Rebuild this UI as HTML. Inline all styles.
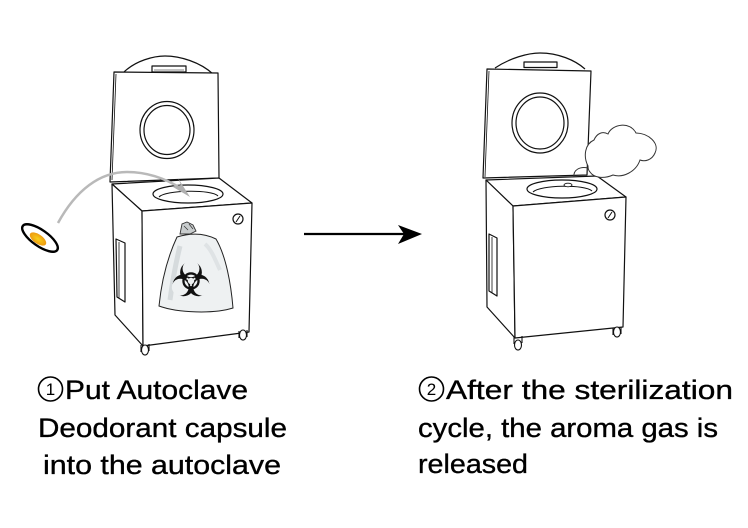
<!DOCTYPE html>
<html>
<head>
<meta charset="utf-8">
<style>
html,body{margin:0;padding:0;background:#fff;}
body{width:748px;height:528px;overflow:hidden;}
svg{display:block;}
text{font-family:"Liberation Sans","DejaVu Sans","Noto Sans CJK SC",sans-serif;font-size:27px;fill:#000;stroke:#000;stroke-width:0.35;}
text.num{font-size:17px;stroke-width:0;}
</style>
</head>
<body>
<svg width="748" height="528" viewBox="0 0 748 528" xmlns="http://www.w3.org/2000/svg">
  <defs>
    <radialGradient id="org" cx="50%" cy="50%" r="50%">
      <stop offset="0" stop-color="#f7d21a"/>
      <stop offset="1" stop-color="#ee9a10"/>
    </radialGradient>
  </defs>

  <!-- ================= LEFT AUTOCLAVE ================= -->
  <g fill="#fff" stroke="#111" stroke-width="1.2" stroke-linejoin="round">
    <path d="M122,74 C135,60 155,56 165,56 C180,56 200,62 213,74" fill="#fff"/>
    <rect x="152" y="66" width="34" height="6" fill="#fff"/>
    <line x1="154" y1="70" x2="184" y2="70" stroke-width="0.6"/>
    <polygon points="114,72 218,73 219,178 110,182"/>
    <line x1="116" y1="74" x2="112" y2="180" stroke-width="0.8"/>
    <ellipse cx="167" cy="130" rx="27" ry="28.5"/>
    <ellipse cx="167" cy="130" rx="23" ry="24.5"/>
    <polygon points="112,184 219,178 252,203 142,211"/>
    <ellipse cx="188" cy="194" rx="35" ry="9"/>
    <path d="M159,197 C165,190 212,189 218,196" fill="none" stroke-width="1"/>
    <polygon points="112,184 142,211 143,346 115,315"/>
    <polygon points="116,239 125,243 125,302 117,297"/>
    <line x1="119" y1="242" x2="119" y2="298" stroke-width="0.8"/>
    <polygon points="142,211 252,203 249,332 143,346"/>
  </g>
  <circle cx="238" cy="219" r="5" fill="#fff" stroke="#111" stroke-width="1.2"/>
  <line x1="236" y1="222" x2="240" y2="216" stroke="#111" stroke-width="1"/>
  <g fill="#fff" stroke="#111" stroke-width="1.1">
    <path d="M141,345 L141,352 M149,344 L149,351"/>
    <ellipse cx="145" cy="350" rx="3.5" ry="5"/>
    <path d="M239,331 L239,338 M247,330 L247,337"/>
    <ellipse cx="243" cy="335" rx="3.5" ry="5"/>
  </g>
  <!-- bag -->
  <path d="M177,237 C170,252 162,276 159,306 C178,313 214,314 233,308 C231,284 226,256 216,239 C204,233 190,233 177,237 Z" fill="#eef1f2" stroke="#222" stroke-width="1"/>
  <path d="M180,246 C176,262 172,285 170,300" stroke="#d6dbdd" stroke-width="5" fill="none"/>
  <path d="M205,244 C212,250 216,262 220,270" stroke="#dfe3e5" stroke-width="4" fill="none"/>
  <polygon points="180,234 182,224 187,222 193,225 196,231 190,234" fill="#c8cccd" stroke="#333" stroke-width="0.9"/>
  <path d="M184,226 L188,230 M189,224 L193,229" stroke="#333" stroke-width="0.7"/>
  <!-- biohazard -->
  <g transform="translate(191,281) scale(1.45)">
    <g fill="#111">
      <circle cx="0" cy="-6" r="7.5"/>
      <circle cx="5.2" cy="3" r="7.5"/>
      <circle cx="-5.2" cy="3" r="7.5"/>
    </g>
    <g fill="#eef1f2">
      <circle cx="0" cy="-8.5" r="5.8"/>
      <circle cx="7.4" cy="4.25" r="5.8"/>
      <circle cx="-7.4" cy="4.25" r="5.8"/>
      <circle cx="0" cy="0" r="2.2"/>
    </g>
    <circle cx="0" cy="0" r="5.2" fill="none" stroke="#111" stroke-width="1.6"/>
    <g stroke="#eef1f2" stroke-width="1.2">
      <line x1="0" y1="0" x2="0" y2="3.5"/>
      <line x1="0" y1="0" x2="3" y2="-1.8"/>
      <line x1="0" y1="0" x2="-3" y2="-1.8"/>
    </g>
  </g>

  <!-- capsule -->
  <ellipse cx="40" cy="238" rx="21" ry="8" transform="rotate(35 40 238)" fill="#fff" stroke="#000" stroke-width="2.4"/>
  <ellipse cx="38" cy="239" rx="9.5" ry="4.6" transform="rotate(35 38 239)" fill="url(#org)"/>

  <!-- gray curve arrow -->
  <path d="M58,223 C76,190 100,172 127,172 C150,172 168,180 182,189" fill="none" stroke="#b9b9b9" stroke-width="2.5"/>
  <polygon points="190,197 173,187 181,185 178,178" fill="#b0b0b0"/>

  <!-- ================= MIDDLE ARROW ================= -->
  <line x1="304" y1="234" x2="405" y2="234" stroke="#000" stroke-width="2.2"/>
  <polygon points="422,234 398,225 404,234 398,244" fill="#000"/>

  <!-- ================= RIGHT AUTOCLAVE ================= -->
  <g fill="#fff" stroke="#111" stroke-width="1.2" stroke-linejoin="round">
    <path d="M495,68 C510,58 528,53 540,53 C558,53 575,60 585,69" fill="#fff"/>
    <rect x="524" y="62" width="33" height="5.5" fill="#fff"/>
    <polygon points="487,69 591,71 587,175 483,178"/>
    <line x1="489" y1="71" x2="485" y2="177" stroke-width="0.8"/>
    <ellipse cx="540" cy="123" rx="28" ry="30"/>
    <ellipse cx="540" cy="123" rx="24" ry="26"/>
    <polygon points="486,180 597,176 626,197 513,206"/>
    <ellipse cx="562" cy="189" rx="35" ry="9"/>
    <path d="M533,192 C540,185 585,184 592,191" fill="none" stroke-width="1"/>
    <ellipse cx="568" cy="185" rx="4" ry="1.8" stroke-width="0.9"/>
    <polygon points="486,180 513,206 515,338 487,307"/>
    <polygon points="489,234 497,238 497,296 489,291"/>
    <line x1="492" y1="237" x2="492" y2="293" stroke-width="0.8"/>
    <polygon points="513,206 626,197 623,327 515,338"/>
  </g>
  <circle cx="610" cy="215" r="5" fill="#fff" stroke="#111" stroke-width="1.2"/>
  <line x1="608" y1="218" x2="612" y2="212" stroke="#111" stroke-width="1"/>
  <g fill="#fff" stroke="#111" stroke-width="1.1">
    <path d="M514,337 L514,344 M522,336 L522,343"/>
    <ellipse cx="518" cy="345" rx="3.5" ry="5"/>
    <path d="M613,328 L613,335 M621,327 L621,334"/>
    <ellipse cx="617" cy="332" rx="3.5" ry="5"/>
  </g>
  <!-- cloud -->
  <path d="M588,166 C583,156 585,144 594,140 C597,133 603,131 608,134 C612,124 630,121 636,133 C648,133 660,143 655,153 C652,160 645,162 640,160 C636,172 623,178 613,175 C604,179 594,178 590,172 C588,170 588,168 588,166 Z" fill="#fff" stroke="#333" stroke-width="1"/>
  <path d="M574,177 C573,170 580,166 588,168" fill="none" stroke="#333" stroke-width="1"/>

  <!-- ================= TEXT ================= -->
  <circle cx="50.5" cy="389" r="12" fill="none" stroke="#000" stroke-width="1.6"/>
  <text class="num" x="50.5" y="395" text-anchor="middle">1</text>
  <text x="65" y="399" textLength="183" lengthAdjust="spacingAndGlyphs">Put Autoclave</text>
  <text x="38" y="437" textLength="249" lengthAdjust="spacingAndGlyphs">Deodorant capsule</text>
  <text x="43" y="474" textLength="238" lengthAdjust="spacingAndGlyphs">into the autoclave</text>

  <circle cx="431.5" cy="389" r="12" fill="none" stroke="#000" stroke-width="1.6"/>
  <text class="num" x="431.5" y="395" text-anchor="middle">2</text>
  <text x="446" y="399" textLength="287" lengthAdjust="spacingAndGlyphs">After the sterilization</text>
  <text x="418" y="437" textLength="300" lengthAdjust="spacingAndGlyphs">cycle, the aroma gas is</text>
  <text x="418" y="473" textLength="110" lengthAdjust="spacingAndGlyphs">released</text>
</svg>
</body>
</html>
